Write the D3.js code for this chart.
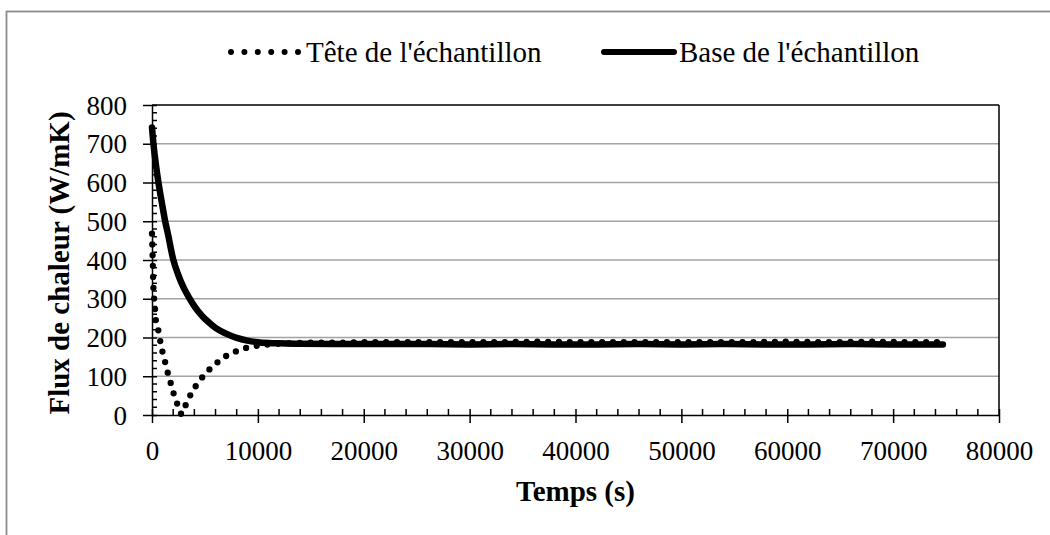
<!DOCTYPE html>
<html>
<head>
<meta charset="utf-8">
<script src="https://cdn.jsdelivr.net/npm/d3@7"></script>
<style>
  html, body { margin: 0; padding: 0; background: #fff; }
  svg { display: block; }
</style>
</head>
<body>
<svg id="chart" width="1050" height="535"></svg>
<script>
// ---- Data ----
const seriesNames = ["Tête de l'échantillon", "Base de l'échantillon"];

const tempsTete = [0, 66, 123, 189, 284, 378, 662, 851, 1135, 1390, 1703, 2015, 2393, 2810,
  3216, 3755, 4380, 5080, 5890, 6810, 7820, 8890, 9960, 11040, 12000, 14000, 16000, 18000,
  20000, 24000, 28000, 32000, 36000, 40000, 44000, 48000, 52000, 56000, 60000, 64000,
  68000, 72000, 74200];
const fluxTete = [468, 400, 335, 305, 275, 241, 211, 179, 149, 119, 89, 58, 28, 2,
  28, 58, 84, 108, 129, 149, 163, 173, 179, 182, 184, 186, 187, 187,
  188, 188, 188, 188, 189, 188, 188, 188, 188, 188, 189, 188,
  189, 188, 188];

const tempsBase = [0, 125, 250, 500, 750, 1000, 1250, 1500, 2000, 2500, 3000, 3500, 4000,
  4500, 5000, 5500, 6000, 7000, 8000, 9000, 10000, 11000, 12000, 14000, 18000, 22000,
  26000, 30000, 34000, 38000, 42000, 46000, 50000, 54000, 58000, 62000, 66000, 70000, 74700];
const fluxBase = [742, 703, 672, 620, 576, 537, 499, 468, 402, 360, 328, 303, 281,
  263, 248, 236, 225, 210, 199, 192, 188, 186, 185, 184, 183, 183,
  183, 182, 183, 182, 182, 183, 182, 183, 182, 182, 183, 182, 182];

const xTicks = [0, 10000, 20000, 30000, 40000, 50000, 60000, 70000, 80000];
const yTicks = [0, 100, 200, 300, 400, 500, 600, 700, 800];

// ---- Drawing ----
const svg = d3.select("#chart");
const L = 152, R = 999, T = 105, B = 415;
const serif = "'Liberation Serif', 'Times New Roman', serif";

const x = d3.scaleLinear().domain([0, 80000]).range([L, R]);
const y = d3.scaleLinear().domain([0, 800]).range([B, T]);

// outer frame (only left/top visible in the reference crop)
svg.append("rect").attr("x", 6.5).attr("y", 11.5).attr("width", 1100).attr("height", 600)
  .attr("fill", "none").attr("stroke", "#8c8c8c").attr("stroke-width", 1.8);

// gridlines
svg.append("g").selectAll("line").data(yTicks.filter(d => d > 0 && d < 800)).join("line")
  .attr("x1", L).attr("x2", R).attr("y1", d => y(d)).attr("y2", d => y(d))
  .attr("stroke", "#a3a3a3").attr("stroke-width", 1.5);

// plot box top & right
svg.append("line").attr("x1", L).attr("x2", R).attr("y1", T).attr("y2", T)
  .attr("stroke", "#000").attr("stroke-width", 1.5);
svg.append("line").attr("x1", R).attr("x2", R).attr("y1", T).attr("y2", B)
  .attr("stroke", "#000").attr("stroke-width", 1.5);

// minor ticks
const xMinor = d3.range(0, 80001, 2000).filter(d => d % 10000 !== 0);
const yMinor = d3.range(0, 801, 20).filter(d => d % 100 !== 0);

const xAxis = d3.axisBottom(x).tickValues(xTicks).tickFormat(d3.format("d")).tickSizeInner(8).tickSizeOuter(0);
const yAxis = d3.axisLeft(y).tickValues(yTicks).tickFormat(d3.format("d")).tickSizeInner(9).tickSizeOuter(0).tickPadding(16);

const gx = svg.append("g").attr("transform", `translate(0,${B})`).call(xAxis);
const gy = svg.append("g").attr("transform", `translate(${L},0)`).call(yAxis);

[gx, gy].forEach(g => {
  g.attr("font-family", serif).attr("font-size", 27);
  g.select(".domain").attr("stroke", "#000").attr("stroke-width", 1.5);
  g.selectAll(".tick line").attr("stroke", "#000").attr("stroke-width", 1.5);
  g.selectAll(".tick text").attr("font-family", serif).attr("font-size", 27).attr("fill", "#000");
});
// major ticks also reach inside slightly
gx.selectAll(".tick").append("line").attr("y1", 0).attr("y2", -6).attr("stroke", "#000").attr("stroke-width", 1.5);
gy.selectAll(".tick").append("line").attr("x1", 0).attr("x2", 5).attr("stroke", "#000").attr("stroke-width", 1.5);
gx.selectAll(".tick text").attr("dy", null).attr("y", 45);
gy.selectAll(".tick text").attr("dy", "0.34em");

svg.append("g").selectAll("line").data(xMinor).join("line")
  .attr("x1", d => x(d)).attr("x2", d => x(d)).attr("y1", B).attr("y2", B - 6)
  .attr("stroke", "#000").attr("stroke-width", 1.5);
svg.append("g").selectAll("line").data(yMinor).join("line")
  .attr("x1", L).attr("x2", L + 5).attr("y1", d => y(d)).attr("y2", d => y(d))
  .attr("stroke", "#000").attr("stroke-width", 1.5);

// series
const line = d3.line().x(d => x(d[0])).y(d => y(d[1])).curve(d3.curveMonotoneX);
const tete = tempsTete.map((t, i) => [t, fluxTete[i]]);
const base = tempsBase.map((t, i) => [t, fluxBase[i]]);

svg.append("path").datum(tete).attr("d", line)
  .attr("fill", "none").attr("stroke", "#000").attr("stroke-width", 6.3)
  .attr("stroke-linecap", "round").attr("stroke-dasharray", "0 10.8");

svg.append("path").datum(base).attr("d", line)
  .attr("fill", "none").attr("stroke", "#000").attr("stroke-width", 6.5)
  .attr("stroke-linecap", "round").attr("stroke-linejoin", "round");

// legend
const lg = svg.append("g");
lg.append("line").attr("x1", 231).attr("x2", 298).attr("y1", 52).attr("y2", 52)
  .attr("stroke", "#000").attr("stroke-width", 6).attr("stroke-linecap", "round")
  .attr("stroke-dasharray", "0 13.4");
lg.append("text").attr("x", 306).attr("y", 62).text(seriesNames[0])
  .attr("font-family", serif).attr("font-size", 29).attr("fill", "#000");
lg.append("line").attr("x1", 604).attr("x2", 674).attr("y1", 52).attr("y2", 52)
  .attr("stroke", "#000").attr("stroke-width", 6).attr("stroke-linecap", "round");
lg.append("text").attr("x", 679).attr("y", 62).text(seriesNames[1])
  .attr("font-family", serif).attr("font-size", 29).attr("fill", "#000");

// axis titles
svg.append("text").attr("x", (L + R) / 2).attr("y", 501).attr("text-anchor", "middle")
  .attr("font-family", serif).attr("font-size", 29).attr("font-weight", "bold").text("Temps (s)");
svg.append("text").attr("transform", `translate(69,${(T + B) / 2 + 3}) rotate(-90)`)
  .attr("text-anchor", "middle")
  .attr("font-family", serif).attr("font-size", 29).attr("font-weight", "bold").text("Flux de chaleur (W/mK)");
</script>
</body>
</html>
